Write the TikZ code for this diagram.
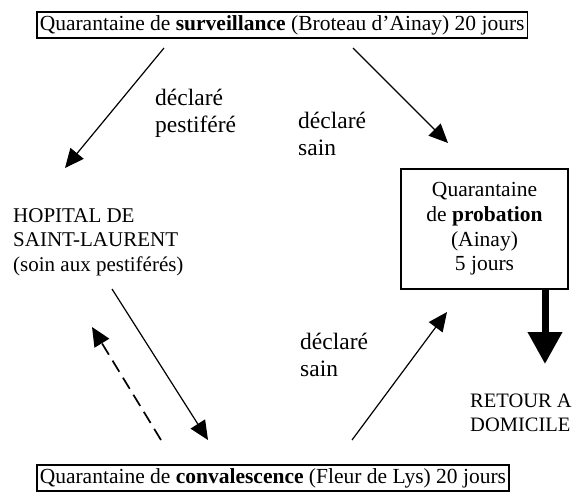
\documentclass[tikz,border=0pt]{standalone}
\usepackage{fontspec}
\setmainfont{Liberation Serif}
\usetikzlibrary{arrows.meta}
\tikzset{>={Triangle[length=19pt,width=17pt]}}
\tikzset{
  txt/.style={inner sep=0pt, font=\fontsize{21}{24.5}\selectfont},
  lbl/.style={inner sep=0pt, align=left, anchor=north west, font=\fontsize{23.5}{27}\selectfont},
  framed/.style={txt, font=\fontsize{21.5}{24.7}\selectfont, draw, line width=1.5pt, inner xsep=3pt, minimum height=26pt},
  flow/.style={->, line width=1.2pt},
}

\begin{document}
\begin{tikzpicture}[x=1pt,y=-1pt]
  \useasboundingbox (0,0) rectangle (575,492);
  % boxes
  \node[framed, anchor=west] (surv) at (36,25) {Quarantaine de \textbf{surveillance} (Broteau d'Ainay) 20 jours};
  \node[framed, anchor=west] (conv) at (36,478) {Quarantaine de \textbf{convalescence} (Fleur de Lys) 20 jours};
  \node[framed, line width=1.2pt, align=center, minimum width=167pt, minimum height=120pt] (prob) at (484.5,229)
    {Quarantaine\\de \textbf{probation}\\(Ainay)\\5 jours};
  % free texts (top = first baseline - strut height)
  \node[txt, align=left, anchor=north west] (hop) at (13,204.9) {\strut HOPITAL DE\\SAINT-LAURENT\\(soin aux pestiférés)};
  \node[txt, font=\fontsize{20.5}{24.5}\selectfont, align=left, anchor=north west] (home) at (470,389.9) {\strut RETOUR A\\DOMICILE};
  \node[lbl] (lpest) at (155,86.1) {\strut déclaré\\pestiféré};
  \node[lbl] (lsain) at (298,109.1) {\strut déclaré\\sain};
  \node[lbl] (lsainb) at (300,330.1) {\strut déclaré\\sain};
  % arrow ends
  \coordinate (a1) at (164,48);  \coordinate (a2) at (65,168);
  \coordinate (b1) at (353,48);  \coordinate (b2) at (448,143);
  \coordinate (c1) at (112,289); \coordinate (c2) at (208,440);
  \coordinate (d1) at (161,440); \coordinate (d2) at (92,327);
  \coordinate (e1) at (352,440); \coordinate (e2) at (447,312);
  \coordinate (f1) at (545,289); \coordinate (f2) at (545,364);
  \draw[flow] (a1) -- (a2);
  \draw[flow] (b1) -- (b2);
  \draw[flow] (c1) -- (c2);
  \draw[flow, line width=1.7pt, dash pattern=on 13pt off 7pt] (d1) -- (d2);
  \draw[flow] (e1) -- (e2);
  \draw[line width=7pt, -{Triangle[length=32pt,width=33pt]}] (f1) -- (f2);
\end{tikzpicture}
\end{document}
